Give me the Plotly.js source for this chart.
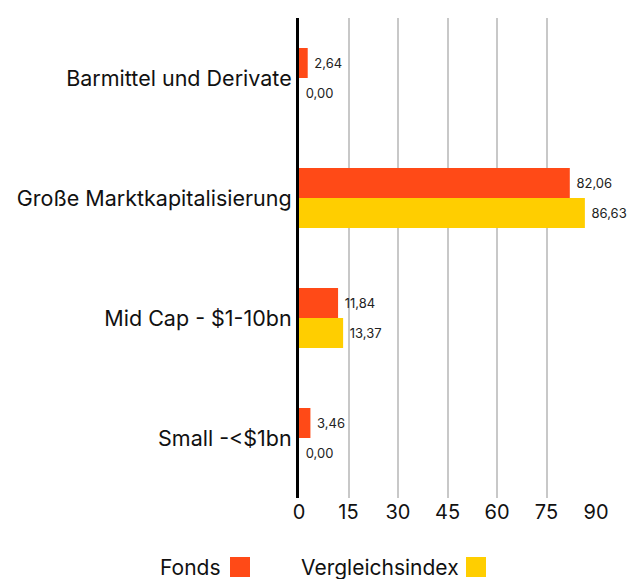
<!DOCTYPE html>
<html>
<head>
<meta charset="utf-8">
<script src="https://cdn.plot.ly/plotly-3.0.1.min.js"></script>
<style>html,body{margin:0;padding:0;background:#fff;}#chart{width:643px;height:579px;}</style>
</head>
<body>
<div id="chart"></div>
<script>
const categories = ["Barmittel und Derivate", "Große Marktkapitalisierung", "Mid Cap - $1-10bn", "Small -<$1bn"];
const fondsValues = [2.64, 82.06, 11.84, 3.46];
const indexValues = [0.00, 86.63, 13.37, 0.00];
const seriesNames = ["Fonds", "Vergleichsindex"];
const tickValues = [0, 15, 30, 45, 60, 75, 90];

const colFonds = "#FF4A17";
const colIndex = "#FFCE00";
const FONT = "Inter, 'Open Sans', sans-serif";

const traces = [
  {type: "bar", orientation: "h", name: seriesNames[0], y: categories, x: fondsValues,
   marker: {color: colFonds}, texttemplate: "\u00a0%{x:.2f}", textposition: "outside",
   textfont: {size: 13, color: "#222", family: FONT}, cliponaxis: false, showlegend: false, hoverinfo: "none"},
  {type: "bar", orientation: "h", name: seriesNames[1], y: categories, x: indexValues,
   marker: {color: colIndex}, texttemplate: "\u00a0%{x:.2f}", textposition: "outside",
   textfont: {size: 13, color: "#222", family: FONT}, cliponaxis: false, showlegend: false, hoverinfo: "none"}
];

function px2x(p){ return (p - 299) / 297; }
function py2y(p){ return (498 - p) / 480; }

const layout = {
  width: 643, height: 579,
  margin: {l: 299, r: 47, t: 18, b: 81},
  paper_bgcolor: "#fff", plot_bgcolor: "#fff",
  separators: ",.",
  barmode: "group", bargap: 0.5, bargroupgap: 0,
  font: {family: FONT, color: "#111"},
  showlegend: false,
  xaxis: {range: [0, 90], tickvals: tickValues, showgrid: true, gridcolor: "#c8c8c8", gridwidth: 2,
          zeroline: false, showline: false, ticks: "", tickfont: {size: 20, family: FONT, color: "#111"},
          fixedrange: true},
  yaxis: {type: "category", autorange: "reversed", showgrid: false, zeroline: false,
          showline: true, linecolor: "#000", linewidth: 3, ticks: "", ticklen: 0,
          tickfont: {size: 21.5, family: FONT, color: "#111"}, automargin: false, fixedrange: true},
  shapes: [
    {type: "rect", xref: "paper", yref: "paper", x0: px2x(230), x1: px2x(250), y0: py2y(577), y1: py2y(557),
     fillcolor: colFonds, line: {width: 0}},
    {type: "rect", xref: "paper", yref: "paper", x0: px2x(466), x1: px2x(486), y0: py2y(577), y1: py2y(557),
     fillcolor: colIndex, line: {width: 0}}
  ],
  annotations: [
    {text: seriesNames[0], xref: "paper", yref: "paper", x: px2x(223), y: py2y(567), xanchor: "right", yanchor: "middle",
     showarrow: false, font: {size: 21, family: FONT, color: "#111"}},
    {text: seriesNames[1], xref: "paper", yref: "paper", x: px2x(461), y: py2y(567), xanchor: "right", yanchor: "middle",
     showarrow: false, font: {size: 21, family: FONT, color: "#111"}}
  ]
};

Plotly.newPlot("chart", traces, layout, {displayModeBar: false, staticPlot: true});
</script>
</body>
</html>
